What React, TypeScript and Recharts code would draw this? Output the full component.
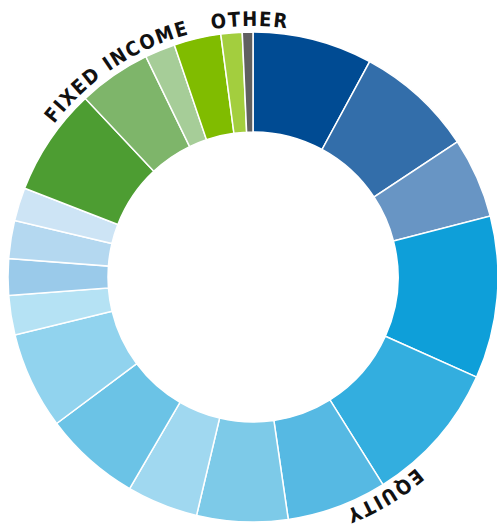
import { Cell, Pie, PieChart } from "recharts";

const categories = [
  "Equity 1", "Equity 2", "Equity 3", "Equity 4", "Equity 5", "Equity 6", "Equity 7",
  "Equity 8", "Equity 9", "Equity 10", "Equity 11", "Equity 12", "Equity 13", "Equity 14",
  "Fixed Income 1", "Fixed Income 2", "Fixed Income 3", "Fixed Income 4", "Fixed Income 5",
  "Other",
];
const shares = [
  7.9, 7.8, 5.3, 10.7, 9.4, 6.6, 6.0, 4.7, 6.4, 6.4, 2.6, 2.4, 2.5, 2.2,
  7.1, 4.8, 2.0, 3.1, 1.4,
  0.7,
];
const groupLabels = ["FIXED INCOME", "OTHER", "EQUITY"];
// position of each group label along the ring, in % of the circle starting at 6 o'clock
const groupLabelOffsets = ["40.7%", "49.8%", "91.4%"];

const COLORS = [
  "#004B93", "#336EAA", "#6895C4", "#0E9FD9", "#33AEDF", "#56B9E3", "#7DCAE8",
  "#A0D8F0", "#6BC3E6", "#91D3EE", "#B5E2F4", "#9ACAEA", "#B4D8F0", "#CDE4F5",
  "#4D9D32", "#7EB56A", "#A6CD98", "#80BC00", "#A3CE3E",
  "#606060",
];

const CX = 253;
const CY = 277;
const LABEL_R = 251;

const data = categories.map((name, i) => ({ name, value: shares[i] }));

function RingLabels() {
  const ring = `M ${CX} ${CY + LABEL_R} A ${LABEL_R} ${LABEL_R} 0 1 1 ${CX} ${CY - LABEL_R} A ${LABEL_R} ${LABEL_R} 0 1 1 ${CX} ${CY + LABEL_R}`;
  return (
    <g>
      <defs>
        <path id="label-ring" d={ring} fill="none" />
      </defs>
      {groupLabels.map((label, i) => (
        <text
          key={label}
          fontFamily="'DejaVu Sans Condensed', 'DejaVu Sans', sans-serif"
          fontStretch="condensed"
          fontWeight="bold"
          fontSize={20}
          letterSpacing={1.6}
          fill="#111"
          textAnchor="middle"
        >
          <textPath href="#label-ring" startOffset={groupLabelOffsets[i]}>
            {label}
          </textPath>
        </text>
      ))}
    </g>
  );
}

export default function App() {
  return (
    <div style={{ position: "absolute", left: 0, top: 0 }}>
      <PieChart width={497} height={529} margin={{ top: 0, right: 0, bottom: 0, left: 0 }}>
        <Pie
          data={data}
          dataKey="value"
          cx={CX}
          cy={CY}
          innerRadius={145}
          outerRadius={245}
          startAngle={90}
          endAngle={-270}
          stroke="#fff"
          strokeWidth={1.5}
          isAnimationActive={false}
        >
          {data.map((entry, index) => (
            <Cell key={`cell-${entry.name}`} fill={COLORS[index % COLORS.length]} />
          ))}
        </Pie>
        <RingLabels />
      </PieChart>
    </div>
  );
}
